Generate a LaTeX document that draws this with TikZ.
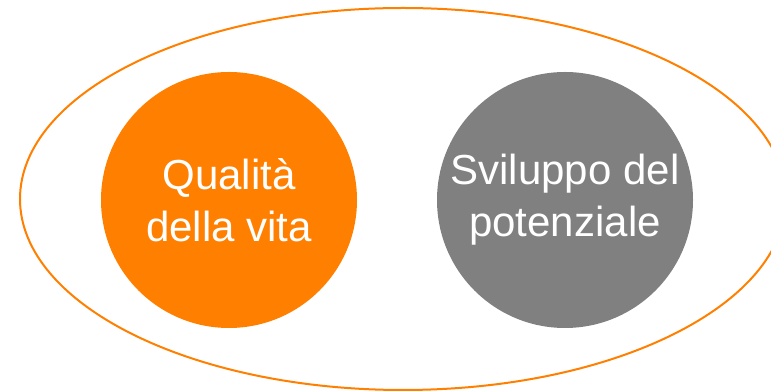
\documentclass[tikz,border=0pt]{standalone}
\usepackage{fontspec}
\setmainfont{Liberation Sans}
\usetikzlibrary{shapes.geometric}
\definecolor{orangeA}{RGB}{255,128,0}
\definecolor{greyA}{RGB}{128,128,128}
\begin{document}
\begin{tikzpicture}[x=0.75pt,y=0.75pt]
		\tikzset{blob/.style = {shape=circle, inner sep=0pt, minimum size=192pt, text=white, align=center, font=\fontsize{31.5pt}{39pt}\selectfont}}

		\useasboundingbox (0,0) rectangle (771,392);
		\clip (0,0) rectangle (771,392);

		\node[shape=ellipse, draw=orangeA, line width=1.5pt, inner sep=0pt, minimum width=574.5pt, minimum height=286.5pt] (E) at (403,193) {};

		\node[blob, fill=orangeA] (C_1) at (229,192) {Qualità\\della vita};
		\node[blob, fill=greyA] (C_2) at (565,192) {Sviluppo del\\potenziale};

	\end{tikzpicture}
\end{document}
